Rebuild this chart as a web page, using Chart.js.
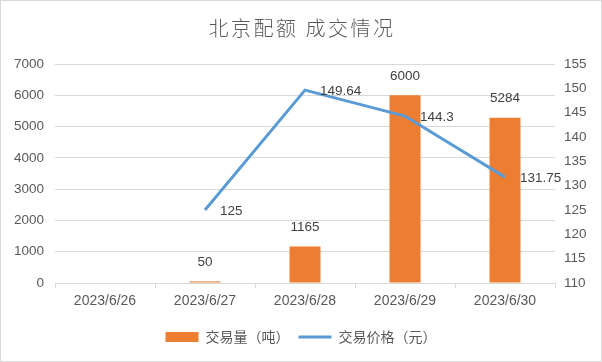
<!DOCTYPE html>
<html><head><meta charset="utf-8">
<script src="https://cdn.jsdelivr.net/npm/chart.js@4"></script>
<style>
html,body{margin:0;padding:0;background:#fff;}
#wrap{position:relative;width:600px;height:360px;border:1px solid #d9d9d9;}
</style></head>
<body><div id="wrap"><canvas id="c" width="600" height="360"></canvas></div>
<script>
const categories = ['2023/6/26','2023/6/27','2023/6/28','2023/6/29','2023/6/30'];
const volume = [null, 50, 1165, 6000, 5284];
const price = [null, 125, 149.64, 144.3, 131.75];
const volumeLabels = ['', '50', '1165', '6000', '5284'];
const priceLabels = ['', '125', '149.64', '144.3', '131.75'];
const titleText = '北京配额 成交情况';

const txt = '#595959';
const numFont = '"Liberation Sans", sans-serif';
const cjkFont = '"Noto Sans CJK SC", sans-serif';

const titlePlugin = {
  id: 'spacedTitle',
  afterDraw(chart) {
    const ctx = chart.ctx;
    ctx.save();
    ctx.font = '300 20px ' + cjkFont;
    ctx.fillStyle = txt;
    ctx.textAlign = 'center';
    ctx.textBaseline = 'middle';
    if ('letterSpacing' in ctx) ctx.letterSpacing = '2.5px';
    ctx.fillText(titleText, chart.width / 2 + 1, 27);
    ctx.restore();
  }
};

const labelPlugin = {
  id: 'valueLabels',
  afterDatasetsDraw(chart) {
    const ctx = chart.ctx;
    ctx.save();
    ctx.font = '13.5px ' + numFont;
    ctx.fillStyle = '#404040';
    ctx.textBaseline = 'middle';
    const m0 = chart.getDatasetMeta(0);
    m0.data.forEach((el, i) => {
      if (volume[i] == null) return;
      ctx.textAlign = 'center';
      ctx.fillText(volumeLabels[i], el.x, el.y - 19);
    });
    const m1 = chart.getDatasetMeta(1);
    m1.data.forEach((el, i) => {
      if (price[i] == null) return;
      ctx.textAlign = 'left';
      ctx.fillText(priceLabels[i], el.x + 15, el.y + 1);
    });
    ctx.restore();
  }
};

new Chart(document.getElementById('c'), {
  data: {
    labels: categories,
    datasets: [
      { type: 'bar', label: '交易量（吨）', data: volume, backgroundColor: '#ED7D31', yAxisID: 'y', barPercentage: 0.62, categoryPercentage: 0.5, order: 2 },
      { type: 'line', label: '交易价格（元）', data: price, borderColor: '#5B9BD5', backgroundColor: '#5B9BD5', borderWidth: 3, pointRadius: 0, tension: 0, yAxisID: 'y1', order: 1 }
    ]
  },
  options: {
    responsive: false,
    animation: false,
    layout: { padding: { left: 0, right: 0, top: 63, bottom: 7 } },
    plugins: {
      title: { display: false },
      legend: { position: 'bottom', labels: { color: txt, font: { family: cjkFont, size: 14 }, usePointStyle: true, pointStyleWidth: 33, boxHeight: 10, padding: 9,
        generateLabels(chart) {
          return chart.data.datasets.map((ds, i) => ({
            text: ds.label,
            fillStyle: i === 0 ? '#ED7D31' : '#5B9BD5',
            strokeStyle: i === 0 ? '#ED7D31' : '#5B9BD5',
            lineWidth: i === 0 ? 0 : 3,
            pointStyle: i === 0 ? 'rect' : 'line',
            datasetIndex: i, fontColor: txt
          }));
        } } },
      tooltip: { enabled: false }
    },
    scales: {
      x: {
        grid: { display: true, drawOnChartArea: false, offset: true, color: '#d9d9d9', tickLength: 5 },
        border: { display: true, color: '#d9d9d9' },
        ticks: { color: txt, font: { family: numFont, size: 14 }, padding: 5, maxRotation: 0 },
        afterFit(s) { s.height = 38; }
      },
      y: {
        position: 'left', min: 0, max: 7000,
        ticks: { stepSize: 1000, color: txt, font: { family: numFont, size: 13.5 }, padding: 11, callback: v => String(v) },
        grid: { color: '#d9d9d9', drawTicks: false },
        border: { display: false },
        afterFit(s) { s.width = 54; }
      },
      y1: {
        position: 'right', min: 110, max: 155,
        ticks: { stepSize: 5, color: txt, font: { family: numFont, size: 13.5 }, padding: 9, callback: v => String(v) },
        grid: { drawOnChartArea: false, drawTicks: false },
        border: { display: false },
        afterFit(s) { s.width = 46; }
      }
    }
  },
  plugins: [labelPlugin, titlePlugin]
});
</script></body></html>
